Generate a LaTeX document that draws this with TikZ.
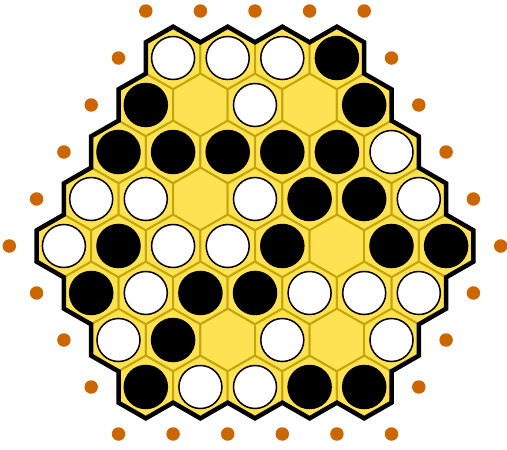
\documentclass[tikz,border=0pt]{standalone}
\usetikzlibrary{calc}

\definecolor{cellyellow}{RGB}{255,226,82}
\definecolor{celledge}{RGB}{196,166,10}
\definecolor{rimdot}{RGB}{204,102,0}

% pointy-top hexagon round a centre
\newcommand\hexcell[2]{({#1},{#2-31.33}) -- ({#1+27.3},{#2-15.67}) -- ({#1+27.3},{#2+15.67}) -- ({#1},{#2+31.33}) -- ({#1-27.3},{#2+15.67}) -- ({#1-27.3},{#2-15.67}) -- cycle}

\begin{document}
\begin{tikzpicture}[
  x=1pt, y=-1pt,
  cell/.style={fill=cellyellow, draw=celledge, line width=2pt, line join=round},
  rim/.style={draw=black, line width=4.5pt},
  stone/.style={circle, draw=black, line width=1.5pt, minimum size=43pt, inner sep=0pt},
  stoneB/.style={stone, fill=black},
  stoneW/.style={stone, fill=white},
  stoneE/.style={draw=none, fill=none},
  dot/.style={circle, fill=rimdot, minimum size=13.5pt, inner sep=0pt}
]
  \useasboundingbox (0,0) rectangle (507,450);

  % outer ring of dots
  \foreach \r/\n in {0/5, 9/6} {
    \foreach \k in {1,...,\n} {
      \pgfmathsetmacro\cx{255+(\k-1-(\n-1)/2)*54.6}
      \node[dot] (dot-\r-\k) at (\cx,{11+47*\r}) {};
    }
  }
  \foreach \r/\n in {1/4, 2/5, 3/6, 4/7, 5/8, 6/7, 7/6, 8/5} {
    \pgfmathsetmacro\dx{(\n+1)/2*54.6}
    \node[dot] (dot-\r-l) at ({255-\dx},{11+47*\r}) {};
    \node[dot] (dot-\r-r) at ({255+\dx},{11+47*\r}) {};
  }

  % cells
  \foreach \r/\n in {1/4, 2/5, 3/6, 4/7, 5/8, 6/7, 7/6, 8/5} {
    \foreach \k in {1,...,\n} {
      \pgfmathsetmacro\cx{255+(\k-1-(\n-1)/2)*54.6}
      \pgfmathsetmacro\cy{11+47*\r}
      \draw[cell] \hexcell{\cx}{\cy};
    }
  }

  % black rim round the board
  \draw[rim] ({255-3*27.3-27.3},{58-15.67})
    foreach \k in {0,...,3} { -- ({255+(\k-1.5)*54.6},{58-31.33}) -- ({255+(\k-1.5)*54.6+27.3},{58-15.67}) }
    -- ({255+3*27.3+27.3},{58+15.67})
    foreach \r/\n in {2/5, 3/6, 4/7, 5/8} { -- ({255+(\n-1)*27.3+27.3},{11+47*\r-15.67}) -- ({255+(\n-1)*27.3+27.3},{11+47*\r+15.67}) }
    -- ({255+7*27.3},{246+31.33})
    foreach \r/\n in {6/7, 7/6, 8/5} { -- ({255+(\n-1)*27.3+27.3},{11+47*\r+15.67}) -- ({255+(\n-1)*27.3},{11+47*\r+31.33}) }
    -- ({255+2*54.6-27.3},{387+15.67})
    foreach \k in {1,0,-1,-2} { -- ({255+\k*54.6},{387+31.33}) -- ({255+\k*54.6-27.3},{387+15.67}) }
    -- ({255-4*27.3-27.3},{387-15.67})
    foreach \r/\n in {7/6, 6/7, 5/8} { -- ({255-(\n-1)*27.3-27.3},{11+47*\r+15.67}) -- ({255-(\n-1)*27.3-27.3},{11+47*\r-15.67}) }
    -- ({255-7*27.3},{246-31.33})
    foreach \r/\n in {4/7, 3/6, 2/5} { -- ({255-(\n-1)*27.3-27.3},{11+47*\r-15.67}) -- ({255-(\n-1)*27.3},{11+47*\r-31.33}) }
    -- cycle;

  % stones
  \foreach \r/\n/\row in {1/4/{W,W,W,B},
                          2/5/{B,E,W,E,B},
                          3/6/{B,B,B,B,B,W},
                          4/7/{W,W,E,W,B,B,W},
                          5/8/{W,B,W,W,B,E,B,B},
                          6/7/{B,W,B,B,W,W,W},
                          7/6/{W,B,E,W,E,W},
                          8/5/{B,W,W,B,B}} {
    \foreach \c [count=\k] in \row {
      \pgfmathsetmacro\cx{255+(\k-1-(\n-1)/2)*54.6}
      \node[stone\c] (stone-\r-\k) at (\cx,{11+47*\r}) {};
    }
  }
\end{tikzpicture}
\end{document}
